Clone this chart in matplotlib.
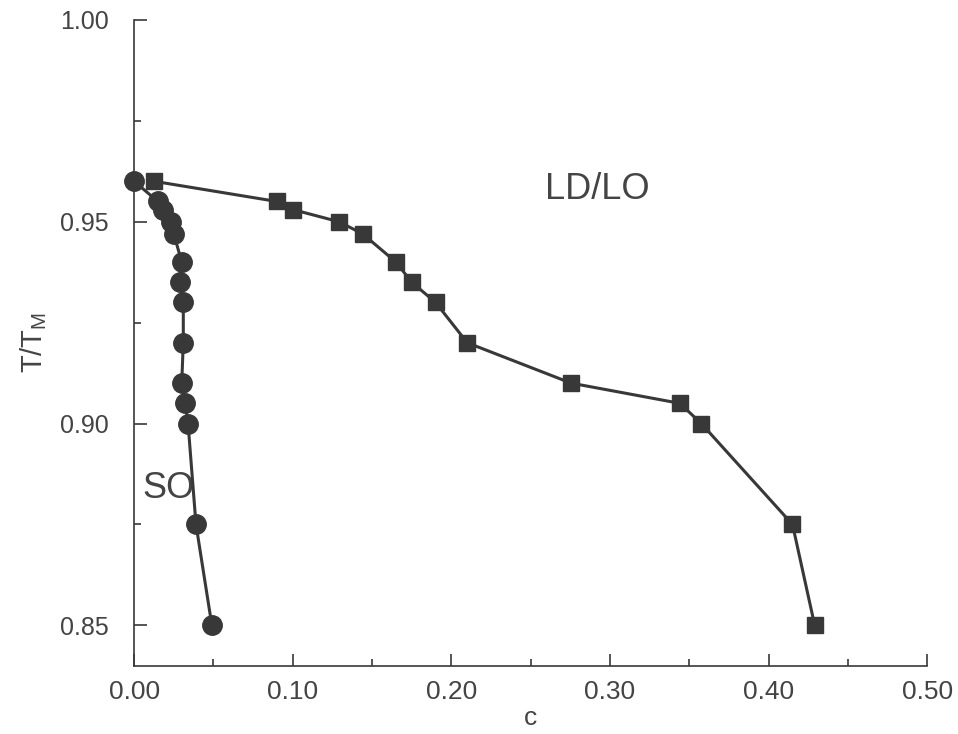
import matplotlib
matplotlib.use("Agg")
import matplotlib.pyplot as plt
from matplotlib.ticker import MultipleLocator

plt.rcParams['font.family'] = ['Liberation Sans', 'DejaVu Sans']

# SO boundary (circles)
so_c = [0.0, 0.015, 0.018, 0.023, 0.025, 0.030, 0.029, 0.031, 0.031, 0.030, 0.032, 0.034, 0.039, 0.049]
so_t = [0.960, 0.955, 0.953, 0.950, 0.947, 0.940, 0.935, 0.930, 0.920, 0.910, 0.905, 0.900, 0.875, 0.850]

# LD/LO boundary (squares)
ld_c = [0.0126, 0.090, 0.100, 0.129, 0.144, 0.165, 0.175, 0.190, 0.210, 0.2755, 0.344, 0.3575, 0.415, 0.429]
ld_t = [0.960, 0.955, 0.953, 0.950, 0.947, 0.940, 0.935, 0.930, 0.920, 0.910, 0.905, 0.900, 0.875, 0.850]

col = '#383838'
txt = '#444444'

fig = plt.figure(figsize=(9.58, 7.34), dpi=100)
ax = fig.add_axes([0.140, 0.093, 0.828, 0.880])

ax.plot(ld_c, ld_t, '-', color=col, lw=2.2, marker='s', ms=12, zorder=3, clip_on=False)
ax.plot(so_c, so_t, '-', color=col, lw=2.2, marker='o', ms=14, zorder=4, clip_on=False)

ax.set_xlim(0.0, 0.5)
ax.set_ylim(0.84, 1.0)
ax.xaxis.set_minor_locator(MultipleLocator(0.05))
ax.yaxis.set_minor_locator(MultipleLocator(0.025))
ax.set_xticks([0.0, 0.1, 0.2, 0.3, 0.4, 0.5])
ax.set_xticklabels(['0.00', '0.10', '0.20', '0.30', '0.40', '0.50'])
ax.set_yticks([0.85, 0.90, 0.95, 1.00])
ax.set_yticklabels(['0.85', '0.90', '0.95', '1.00'])

ax.tick_params(which='both', direction='in', color=col, labelcolor=txt)
ax.tick_params(which='major', length=9, width=1.2)
ax.tick_params(which='minor', length=5, width=1.2)
ax.tick_params(axis='x', pad=10, labelsize=19)
ax.tick_params(axis='y', pad=18, labelsize=18)

for s in ['top', 'right']:
    ax.spines[s].set_visible(False)
for s in ['left', 'bottom']:
    ax.spines[s].set_color(col)
    ax.spines[s].set_linewidth(1.2)

ax.set_xlabel('c', fontsize=19, color=txt, labelpad=2)
ax.set_ylabel(r'T/T$_\mathregular{M}$', fontsize=21, color=txt, labelpad=8)

ax.text(0.292, 0.958, 'LD/LO', fontsize=26, color=txt, ha='center', va='center')
ax.text(0.022, 0.884, 'SO', fontsize=26, color=txt, ha='center', va='center')

fig.savefig('out.png', dpi=100)
